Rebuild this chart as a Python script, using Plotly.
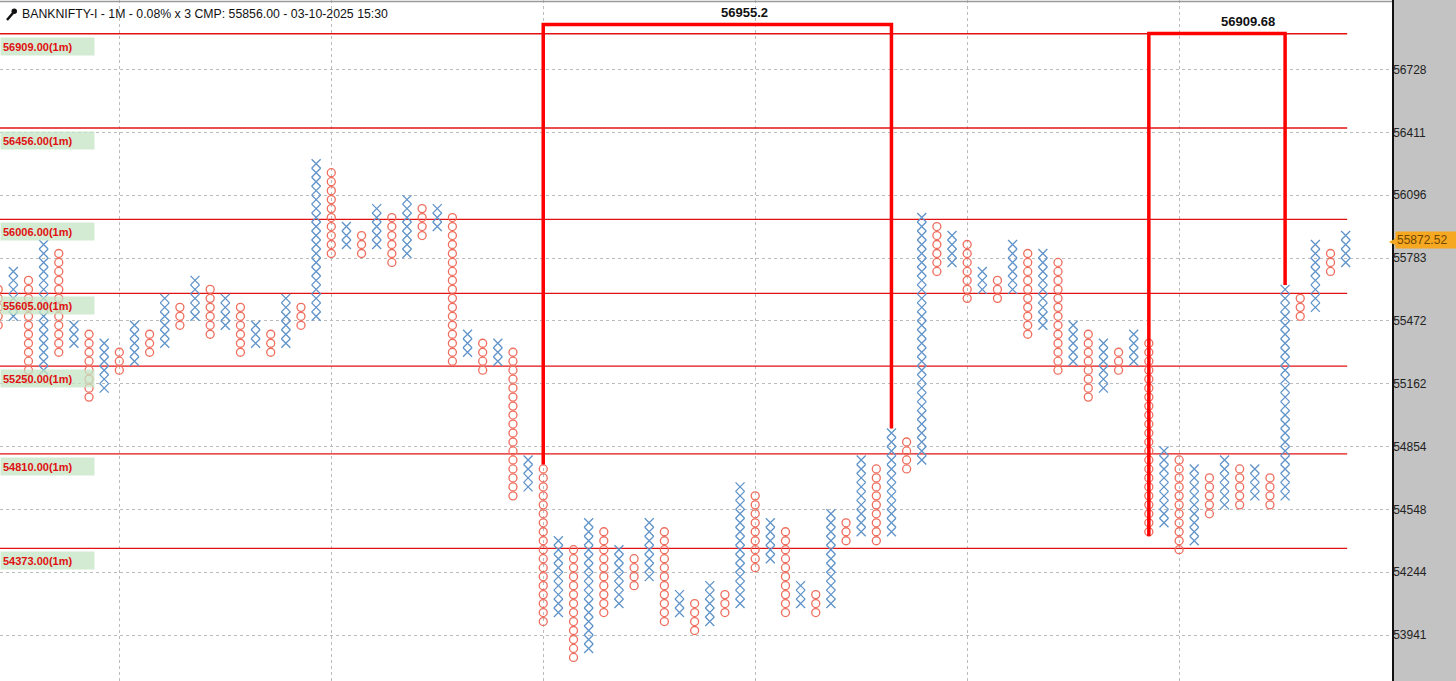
import math
import plotly.graph_objects as go

# ---------------- data ----------------
TITLE_TEXT = "BANKNIFTY-I - 1M - 0.08% x 3 CMP: 55856.00 - 03-10-2025 15:30"
BOX_PCT = 0.0008          # 0.08 % box
BASE_PRICE = 53941.0      # box grid anchor (lowest axis tick)

# Point & Figure columns (box indices on the 0.08% grid), alternating O / X
COL_TYPE = ["O", "X"] * 45
COL_TOP = [38, 40, 39, 43, 42, 34, 33, 32, 31, 34,
           33, 37, 36, 39, 38, 37, 36, 34, 33, 37,
           36, 52, 51, 45, 44, 47, 46, 48, 47, 47,
           46, 33, 32, 32, 31, 19, 18, 10, 9, 12,
           11, 9, 8, 12, 11, 4, 3, 5, 4, 16,
           15, 12, 11, 5, 4, 13, 12, 19, 18, 22,
           21, 46, 45, 44, 43, 40, 39, 43, 42, 42,
           41, 34, 33, 32, 31, 33, 32, 20, 19, 18,
           17, 19, 18, 18, 17, 38, 37, 43, 42, 44]
COL_BOTTOM = [34, 35, 28, 29, 31, 32, 26, 27, 29, 30,
              31, 32, 34, 35, 33, 34, 31, 32, 31, 32,
              34, 35, 42, 43, 42, 43, 41, 42, 44, 45,
              30, 31, 29, 30, 15, 16, 1, 2, -3, -2,
              2, 3, 5, 6, 1, 2, 0, 1, 2, 3,
              7, 8, 2, 3, 2, 3, 10, 11, 10, 11,
              18, 19, 40, 41, 37, 38, 37, 38, 33, 34,
              29, 30, 26, 27, 29, 30, 11, 12, 9, 10,
              13, 14, 14, 15, 14, 15, 35, 36, 40, 41]

TICK_VALUES = [56728, 56411, 56096, 55783, 55472, 55162, 54854, 54548, 54244, 53941]
LEVEL_LABELS = [56909.00, 56456.00, 56006.00, 55605.00, 55250.00, 54810.00, 54373.00]
LEVEL_DRAWN = [56909, 56433, 55976, 55608, 55249, 54818, 54359]   # where the lines sit on the chart
LEVEL_TF = "1m"
TARGETS = [56955.2, 56909.68]
TARGET_LABELS = ["56955.2", "56909.68"]
TARGET_FROM_COL = [36, 76]
TARGET_FROM_END = ["top", "bottom"]
TARGET_TO_COL = [59, 85]
LAST_PRICE = 55872.52

# ---------------- layout constants ----------------
W, H = 1456, 681
PLOT_W = 1392
COL0_PX, COL_STEP = -1.8, 15.14
PX_PER_LN = 11225.6
BASE_PX = 635.0
TARGET_LABEL_X = [49.3, 82.55]
GRID_COLS = [8, 22, 36, 50, 64, 78]
LEVEL_END_COL = 89.1

X_COLOR = "#5f93c9"
O_COLOR = "#ef6d5d"
RED = "#ff0000"

R = 1.0 + BOX_PCT


def box_price(k):
    return BASE_PRICE * R ** (k + 0.5)


def edge_price(k, side):
    return BASE_PRICE * R ** (k + 1 if side == "top" else k)


xs_x, ys_x, xs_o, ys_o = [], [], [], []
for i, (t, top, bot) in enumerate(zip(COL_TYPE, COL_TOP, COL_BOTTOM)):
    for k in range(bot, top + 1):
        if t == "X":
            xs_x.append(i); ys_x.append(box_price(k))
        else:
            xs_o.append(i); ys_o.append(box_price(k))

fig = go.Figure()

# horizontal levels
for lv in LEVEL_DRAWN:
    fig.add_trace(go.Scatter(x=[-1, LEVEL_END_COL], y=[lv, lv], mode="lines",
                             line=dict(color="#e31212", width=1.3),
                             hoverinfo="skip", showlegend=False))

fig.add_trace(go.Scatter(x=xs_x, y=ys_x, mode="markers", showlegend=False,
                         marker=dict(symbol="x-thin", size=9,
                                     line=dict(color=X_COLOR, width=1.3))))
fig.add_trace(go.Scatter(x=xs_o, y=ys_o, mode="markers", showlegend=False,
                         marker=dict(symbol="circle-open", size=8, color=O_COLOR,
                                     line=dict(color=O_COLOR, width=1.3))))

# target brackets
annotations = []
for tgt, lab, c1, side, c2, lx in zip(TARGETS, TARGET_LABELS, TARGET_FROM_COL,
                                      TARGET_FROM_END, TARGET_TO_COL, TARGET_LABEL_X):
    y1 = edge_price(COL_TOP[c1] if side == "top" else COL_BOTTOM[c1], side)
    y2 = edge_price(COL_TOP[c2], "top")
    fig.add_trace(go.Scatter(x=[c1, c1, c2, c2], y=[y1, tgt, tgt, y2], mode="lines",
                             line=dict(color=RED, width=3.5), hoverinfo="skip",
                             showlegend=False))
    annotations.append(dict(x=lx, y=math.log10(tgt), xref="x", yref="y",
                            text=f"<b>{lab}</b>", showarrow=False,
                            yanchor="bottom", yshift=3,
                            font=dict(family="Liberation Sans", size=13, color="#111")))

for lab, lv in zip(LEVEL_LABELS, LEVEL_DRAWN):
    annotations.append(dict(x=0, y=math.log10(lv), xref="paper", yref="y",
                            xanchor="left", yanchor="top", yshift=-3,
                            text=f"<b>{lab:.2f}({LEVEL_TF})</b>", showarrow=False,
                            align="left", width=89, height=13, borderpad=2,
                            bgcolor="rgba(196,228,196,0.75)",
                            font=dict(family="Liberation Sans", size=11, color="#e01010")))

# title
annotations.append(dict(x=20 / PLOT_W, y=1 - 14 / H, xref="paper", yref="paper",
                        xanchor="left", yanchor="middle", text=TITLE_TEXT, showarrow=False,
                        font=dict(family="Liberation Sans", size=12.3, color="#111")))

# last price tag
annotations.append(dict(x=1, y=math.log10(LAST_PRICE), xref="paper", yref="y",
                        xanchor="left", xshift=-5, text="◀", showarrow=False,
                        font=dict(size=12, color="#f7a823")))
annotations.append(dict(x=1, y=math.log10(LAST_PRICE), xref="paper", yref="y",
                        xanchor="left", xshift=3, text=f"{LAST_PRICE:.2f}", showarrow=False,
                        bgcolor="#f7a823", width=58, height=14, borderpad=1, align="left",
                        font=dict(family="Liberation Sans", size=12, color="#6e4700")))

shapes = [
    dict(type="rect", xref="paper", yref="paper", x0=1, x1=W / PLOT_W, y0=0, y1=1,
         fillcolor="#c3c3c3", line=dict(width=0), layer="below"),
    dict(type="line", xref="paper", yref="paper", x0=0, x1=1, y0=1 - 1.5 / H, y1=1 - 1.5 / H,
         line=dict(color="#9a9a9a", width=1.5)),
    # wrench icon
    dict(type="line", xref="paper", yref="paper", x0=7 / PLOT_W, y0=1 - 20 / H,
         x1=13 / PLOT_W, y1=1 - 13 / H, line=dict(color="#111", width=2.5)),
    dict(type="circle", xref="paper", yref="paper", x0=11.5 / PLOT_W, x1=17 / PLOT_W,
         y0=1 - 14 / H, y1=1 - 8.5 / H, fillcolor="#111", line=dict(width=0)),
]

top_price = BASE_PRICE * math.exp(BASE_PX / PX_PER_LN)
bot_price = BASE_PRICE * math.exp(-(H - BASE_PX) / PX_PER_LN)
x_lo = (0 - COL0_PX) / COL_STEP
x_hi = (PLOT_W - COL0_PX) / COL_STEP

fig.update_layout(
    width=W, height=H, margin=dict(l=0, r=W - PLOT_W, t=0, b=0),
    paper_bgcolor="white", plot_bgcolor="white",
    annotations=annotations, shapes=shapes, hovermode=False,
    xaxis=dict(range=[x_lo, x_hi], tickvals=GRID_COLS, showticklabels=False,
               showgrid=True, gridcolor="#bcbcbc", griddash="3px,3px", gridwidth=1,
               zeroline=False, showline=False, ticks=""),
    yaxis=dict(type="log", range=[math.log10(bot_price), math.log10(top_price)],
               side="right", tickvals=TICK_VALUES, ticktext=[str(v) for v in TICK_VALUES],
               showgrid=True, gridcolor="#bcbcbc", griddash="3px,3px", gridwidth=1,
               zeroline=False, showline=True, linecolor="#111", linewidth=1.5,
               ticks="", ticklabelstandoff=-3,
               tickfont=dict(family="Liberation Sans", size=12, color="#222")),
)

fig.write_html("out.html", config={"displayModeBar": False},
               post_script="document.body.style.margin='0';document.body.style.overflow='hidden';")
